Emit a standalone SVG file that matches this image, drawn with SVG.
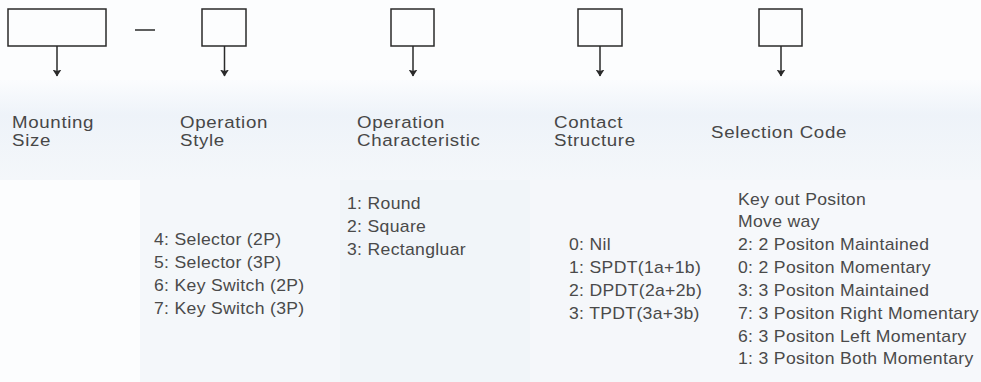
<svg xmlns="http://www.w3.org/2000/svg" width="981" height="382" viewBox="0 0 981 382">
<style>
.box{fill:none;stroke:#2a2a2a;stroke-width:1.5}
.ln{stroke:#2a2a2a;stroke-width:1.5;fill:none}
.h{font-family:"Liberation Sans",Arial,sans-serif;font-size:17px;fill:#474747;letter-spacing:0.6px}
.t{font-family:"Liberation Sans",Arial,sans-serif;font-size:16px;fill:#4a4a4a;letter-spacing:0.3px}
</style>
<defs>
<marker id="ah" viewBox="0 0 7 9" refX="6.5" refY="4.5" markerWidth="7" markerHeight="9" markerUnits="userSpaceOnUse" orient="auto">
<path d="M0,0 L7,4.5 L0,9 L1.5,4.5 Z" fill="#2a2a2a"/>
</marker>
<linearGradient id="band" x1="0" y1="0" x2="0" y2="1">
<stop offset="0" stop-color="#fbfcfe"/>
<stop offset="0.35" stop-color="#eef3f9"/>
<stop offset="1" stop-color="#f4f7fa"/>
</linearGradient>
</defs>
<g id="background">
<rect x="0" y="0" width="981" height="382" fill="#fcfdfe"/>
<rect x="0" y="80" width="981" height="100" fill="url(#band)"/>
<rect x="140" y="180" width="200" height="202" fill="#f4f7fa"/>
<rect x="340" y="180" width="190" height="202" fill="#f1f5f9"/>
<rect x="530" y="180" width="170" height="202" fill="#f5f7fa"/>
<rect x="700" y="180" width="281" height="202" fill="#f6f8fb"/>
</g>
<g id="node-mounting">
<rect class="box" x="8" y="9" width="98" height="37"/>
<text class="h" transform="translate(12,128) scale(1.1,1)">Mounting</text>
<text class="h" transform="translate(12,146) scale(1.1,1)">Size</text>
</g>
<g id="dash">
<line class="ln" x1="135" y1="30" x2="155" y2="30"/>
</g>
<g id="node-operation-style">
<rect class="box" x="202" y="9" width="44" height="37"/>
<text class="h" transform="translate(180,128) scale(1.1,1)">Operation</text>
<text class="h" transform="translate(180,146) scale(1.1,1)">Style</text>
<text class="t" transform="translate(154,245) scale(1.1,1)">4: Selector (2P)</text>
<text class="t" transform="translate(154,268) scale(1.1,1)">5: Selector (3P)</text>
<text class="t" transform="translate(154,291) scale(1.1,1)">6: Key Switch (2P)</text>
<text class="t" transform="translate(154,314) scale(1.1,1)">7: Key Switch (3P)</text>
</g>
<g id="node-operation-characteristic">
<rect class="box" x="391" y="9" width="43" height="37"/>
<text class="h" transform="translate(357,128) scale(1.1,1)">Operation</text>
<text class="h" transform="translate(357,146) scale(1.1,1)">Characteristic</text>
<text class="t" transform="translate(347,209) scale(1.1,1)">1: Round</text>
<text class="t" transform="translate(347,232) scale(1.1,1)">2: Square</text>
<text class="t" transform="translate(347,255) scale(1.1,1)">3: Rectangluar</text>
</g>
<g id="node-contact-structure">
<rect class="box" x="578" y="9" width="44" height="37"/>
<text class="h" transform="translate(554,128) scale(1.1,1)">Contact</text>
<text class="h" transform="translate(554,146) scale(1.1,1)">Structure</text>
<text class="t" transform="translate(569,250) scale(1.1,1)">0: Nil</text>
<text class="t" transform="translate(569,273) scale(1.1,1)">1: SPDT(1a+1b)</text>
<text class="t" transform="translate(569,296) scale(1.1,1)">2: DPDT(2a+2b)</text>
<text class="t" transform="translate(569,319) scale(1.1,1)">3: TPDT(3a+3b)</text>
</g>
<g id="node-selection-code">
<rect class="box" x="759" y="9" width="43" height="37"/>
<text class="h" transform="translate(711,138) scale(1.1,1)">Selection Code</text>
<text class="t" transform="translate(738,205) scale(1.1,1)">Key out Positon</text>
<text class="t" transform="translate(738,227) scale(1.1,1)">Move way</text>
<text class="t" transform="translate(738,250) scale(1.1,1)">2: 2 Positon Maintained</text>
<text class="t" transform="translate(738,273) scale(1.1,1)">0: 2 Positon Momentary</text>
<text class="t" transform="translate(738,296) scale(1.1,1)">3: 3 Positon Maintained</text>
<text class="t" transform="translate(738,319) scale(1.1,1)">7: 3 Positon Right Momentary</text>
<text class="t" transform="translate(738,342) scale(1.1,1)">6: 3 Positon Left Momentary</text>
<text class="t" transform="translate(738,364) scale(1.1,1)">1: 3 Positon Both Momentary</text>
</g>
<g id="connectors">
<line class="ln" x1="57" y1="46" x2="57" y2="76" marker-end="url(#ah)"/>
<line class="ln" x1="224.5" y1="46" x2="224.5" y2="76" marker-end="url(#ah)"/>
<line class="ln" x1="413" y1="46" x2="413" y2="76" marker-end="url(#ah)"/>
<line class="ln" x1="600" y1="46" x2="600" y2="76" marker-end="url(#ah)"/>
<line class="ln" x1="781" y1="46" x2="781" y2="76" marker-end="url(#ah)"/>
</g>
</svg>
